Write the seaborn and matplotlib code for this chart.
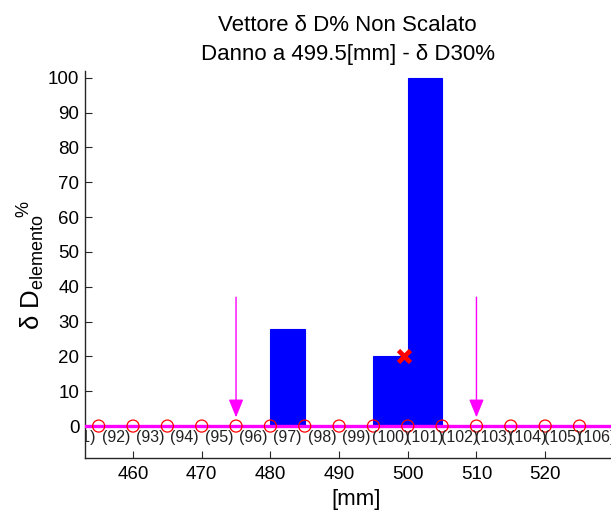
import numpy as np
import pandas as pd
import matplotlib
matplotlib.use("Agg")
import matplotlib.pyplot as plt
import seaborn as sns

# Element numbers shown along the beam and their damage values (%)
element_ids = list(range(91, 107))
damaged_elements = [97, 100, 101]
damage_values = [28, 20, 100]

# Mesh geometry (mm)
element_length = 5.0
first_node = 455.0          # left node of element 92
node_positions = [455, 460, 465, 470, 475, 480, 485, 490, 495, 500, 505, 510, 515, 520, 525]

# Actual damage location and its severity
damage_x = 499.5
damage_y = 20

# Sensor/arrow positions
arrow_positions = [475, 510]
arrow_top = 37
arrow_tip = 2.5

sns.set_style("white")
plt.rcParams["font.family"] = ["Liberation Sans", "DejaVu Sans"]
plt.rcParams["mathtext.fontset"] = "custom"
plt.rcParams["mathtext.rm"] = "Liberation Sans"
plt.rcParams["mathtext.it"] = "Liberation Sans"
plt.rcParams["text.color"] = "black"
plt.rcParams["axes.labelcolor"] = "black"

fig = plt.figure(figsize=(6.11, 5.13), dpi=100)
# the plot box runs past the right edge of the figure
ax = fig.add_axes([0.139, 0.107, 0.887, 0.755])

def element_left(k):
    return first_node + (k - 92) * element_length

# Damage bars as a weighted histogram over the element edges
bars_df = pd.DataFrame({
    "center": [element_left(k) + element_length / 2 for k in damaged_elements],
    "damage": damage_values,
})
sns.histplot(data=bars_df, x="center", weights="damage",
             binwidth=element_length, binrange=(element_left(92), element_left(107)),
             ax=ax, color="#0000ff", alpha=1.0, edgecolor="#0000ff", linewidth=0.8,
             stat="count", zorder=2)

# Undamaged reference line
xlim = (453.0, 531.9)
line_df = pd.DataFrame({"x": [440.0, 540.0], "y": [0.0, 0.0]})
sns.lineplot(data=line_df, x="x", y="y", ax=ax, color="#ff00ff", linewidth=2.4, zorder=3)

# Nodes
node_df = pd.DataFrame({"x": node_positions, "y": [0] * len(node_positions)})
sns.scatterplot(data=node_df, x="x", y="y", ax=ax, marker="o", s=75,
                facecolor="none", edgecolor="red", linewidth=0.9, zorder=4)

# Element labels
for k in element_ids:
    ax.text(element_left(k) + element_length / 2, -3.3, f"({k})", ha="center", va="center",
            fontsize=11.5, color="#222222", clip_on=True, zorder=5)

# Sensor arrows
for xa in arrow_positions:
    ax.annotate("", xy=(xa, arrow_tip), xytext=(xa, arrow_top),
                arrowprops=dict(arrowstyle="-|>,head_length=1.1,head_width=0.45",
                                color="#ff00ff", linewidth=1.0, shrinkA=0, shrinkB=0),
                zorder=5)

# True damage location
ax.plot([damage_x], [damage_y], marker="x", color="red", markersize=8.5,
        markeredgewidth=3.4, linestyle="none", zorder=6)

ax.set_xlim(*xlim)
ax.set_ylim(-9.2, 102)
ax.set_xticks(np.arange(460, 521, 10))
ax.set_yticks(np.arange(0, 101, 10))
ax.tick_params(axis="both", direction="in", length=5, width=0.8, colors="#262626",
               labelsize=13.5, labelcolor="black", pad=4,
               left=True, bottom=True, top=False, right=False)
ax.tick_params(axis="x", pad=6)
for side in ("top", "right"):
    ax.spines[side].set_visible(False)
for side in ("left", "bottom"):
    ax.spines[side].set_color("#262626")
    ax.spines[side].set_linewidth(1.0)

ax.set_xlabel("[mm]", fontsize=16, labelpad=4)
ax.set_ylabel(r"$\delta$ D$_{\rm elemento}$$^{\!\%}$", fontsize=18.5, labelpad=1)
ax.set_title("Vettore δ D% Non Scalato\nDanno a 499.5[mm] - δ D30%", fontsize=16,
             pad=8, linespacing=1.45, x=0.485)
ax.grid(False)

fig.savefig("out.png", dpi=100)
